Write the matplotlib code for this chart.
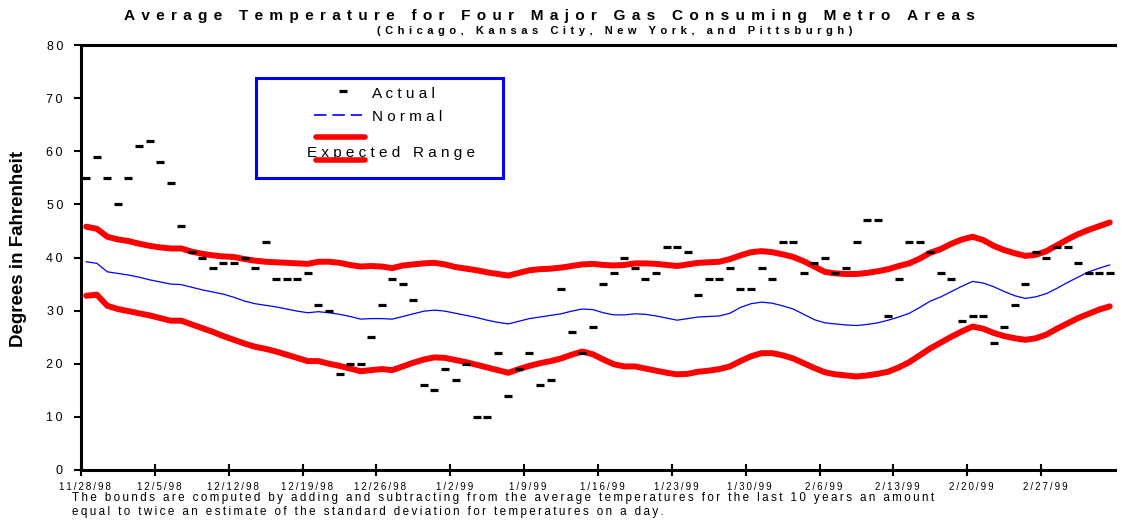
import datetime as dt
import matplotlib
matplotlib.use('Agg')
import matplotlib.pyplot as plt
from matplotlib.lines import Line2D
from matplotlib.patches import Rectangle
from matplotlib.transforms import ScaledTranslation

plt.rcParams['font.family'] = ['Liberation Sans', 'DejaVu Sans']

# daily values, 11/28/98 .. 3/5/99
actual = [55, 59, 55, 50, 55, 61, 62, 58, 54, 46, 41, 40, 38, 39, 39, 40,
          38, 43, 36, 36, 36, 37, 31, 30, 18, 20, 20, 25, 31, 36, 35, 32,
          16, 15, 19, 17, 20, 10, 10, 22, 14, 19, 22, 16, 17, 34, 26, 22,
          27, 35, 37, 40, 38, 36, 37, 42, 42, 41, 33, 36, 36, 38, 34, 34,
          38, 36, 43, 43, 37, 39, 40, 37, 38, 43, 47, 47, 29, 36, 43, 43,
          41, 37, 36, 28, 29, 29, 24, 27, 31, 35, 41, 40, 42, 42, 39, 37,
          37, 37]

upper = [45.8, 45.4, 43.9, 43.4, 43.1, 42.6, 42.2, 41.9, 41.7, 41.7, 41.1, 40.7,
         40.4, 40.2, 40.1, 39.7, 39.4, 39.2, 39.1, 39.0, 38.9, 38.8, 39.2, 39.2,
         39.0, 38.6, 38.3, 38.4, 38.3, 38.0, 38.5, 38.7, 38.9, 39.0, 38.7, 38.2,
         37.9, 37.6, 37.2, 36.9, 36.6, 37.1, 37.6, 37.8, 37.9, 38.1, 38.4, 38.7,
         38.8, 38.6, 38.5, 38.6, 38.9, 38.9, 38.8, 38.6, 38.4, 38.7, 39.0, 39.1,
         39.2, 39.7, 40.4, 41.0, 41.2, 41.0, 40.6, 40.1, 39.3, 38.3, 37.3, 37.0,
         36.9, 36.9, 37.1, 37.4, 37.8, 38.4, 38.9, 39.8, 40.9, 41.6, 42.6, 43.4,
         43.9, 43.3, 42.2, 41.4, 40.8, 40.3, 40.5, 41.2, 42.3, 43.4, 44.4, 45.2,
         45.9, 46.6]

normal = [39.2, 38.9, 37.3, 37.0, 36.7, 36.3, 35.8, 35.4, 35.0, 34.9, 34.4, 33.9,
          33.5, 33.1, 32.5, 31.8, 31.3, 31.0, 30.7, 30.3, 29.9, 29.6, 29.8, 29.6,
          29.3, 28.9, 28.4, 28.5, 28.5, 28.4, 28.9, 29.4, 29.9, 30.1, 29.9, 29.5,
          29.1, 28.7, 28.2, 27.8, 27.5, 28.0, 28.5, 28.8, 29.1, 29.4, 29.9, 30.3,
          30.2, 29.6, 29.2, 29.2, 29.4, 29.3, 29.0, 28.6, 28.2, 28.5, 28.8, 28.9,
          29.0, 29.5, 30.6, 31.3, 31.6, 31.4, 30.9, 30.3, 29.3, 28.3, 27.7, 27.5,
          27.3, 27.2, 27.4, 27.7, 28.2, 28.8, 29.5, 30.6, 31.8, 32.6, 33.6, 34.6,
          35.5, 35.2, 34.5, 33.6, 32.8, 32.3, 32.6, 33.2, 34.2, 35.3, 36.3, 37.3,
          38.0, 38.6]

lower = [32.8, 33.0, 30.9, 30.3, 29.9, 29.5, 29.1, 28.6, 28.1, 28.1, 27.4, 26.7,
         26.0, 25.2, 24.5, 23.8, 23.2, 22.8, 22.3, 21.7, 21.1, 20.5, 20.5, 20.0,
         19.6, 19.1, 18.6, 18.8, 19.0, 18.8, 19.5, 20.2, 20.8, 21.2, 21.1, 20.7,
         20.3, 19.8, 19.3, 18.8, 18.3, 19.0, 19.6, 20.1, 20.5, 21.0, 21.7, 22.3,
         21.8, 20.8, 19.9, 19.5, 19.5, 19.1, 18.7, 18.3, 18.0, 18.1, 18.5, 18.7,
         19.0, 19.5, 20.5, 21.4, 22.0, 22.0, 21.6, 21.0, 20.1, 19.2, 18.4, 18.0,
         17.8, 17.6, 17.8, 18.1, 18.5, 19.3, 20.3, 21.6, 22.9, 24.0, 25.1, 26.1,
         27.0, 26.6, 25.8, 25.2, 24.8, 24.5, 24.8, 25.5, 26.6, 27.6, 28.6, 29.4,
         30.2, 30.8]

start = dt.datetime(1998, 11, 28)
days = [start + dt.timedelta(days=i, hours=12) for i in range(len(actual))]
week_ticks = [start + dt.timedelta(days=7 * k) for k in range(14)]
tick_labels = [f'{d.month}/{d.day}/{d:%y}' for d in week_ticks]
y_ticks = list(range(0, 81, 10))

footnote = ['The bounds are computed by adding and subtracting from the average '
            'temperatures for the last 10 years an amount',
            'equal to twice an estimate of the standard deviation for '
            'temperatures on a day.']


def track(s, n=1, sep='\u2009'):
    # fake letter spacing
    return (sep * n).join(s)


W, H = 1122, 522
fig = plt.figure(figsize=(W / 100, H / 100), dpi=100)
ax = fig.add_axes([81 / W, 1 - 470 / H, (1115 - 81) / W, (470 - 45) / H])

for band in (upper, lower):
    ax.plot(days, band, color='red', lw=4.3, solid_capstyle='round',
            solid_joinstyle='round', zorder=2)
ax.plot(days, normal, color='blue', lw=0.9, zorder=3)
ax.plot(days, actual, ls='none', marker='_', ms=5.5, mew=2.3,
        color='black', zorder=4)

ax.set_xlim(start, start + dt.timedelta(days=98))
ax.set_ylim(0, 80)
ax.set_xticks(week_ticks)
ax.set_xticklabels([track(t) for t in tick_labels], fontsize=7)
ax.set_yticks(y_ticks)
ax.set_yticklabels([track(str(v)) for v in y_ticks], fontsize=9)
ax.tick_params(axis='x', direction='inout', length=8, width=1.5, pad=5)
ax.tick_params(axis='y', direction='out', length=5, width=1.5, pad=8)
for lbl in ax.get_xticklabels():
    lbl.set_transform(lbl.get_transform() +
                      ScaledTranslation(0.04, 0, fig.dpi_scale_trans))

ax.spines['right'].set_visible(False)
for s in ('left', 'bottom', 'top'):
    ax.spines[s].set_linewidth(2.2)

fig.text(19 / W, 1 - 249 / H, 'Degrees in Fahrenheit', rotation=90,
         fontsize=13.5, fontweight='bold', ha='center', va='center')
fig.text(549.5 / W, 1 - 16 / H,
         track('Average Temperature for Four Major Gas Consuming Metro Areas', 2),
         fontsize=11.1, fontweight='bold', ha='center', va='center')
fig.text(615 / W, 1 - 30.5 / H,
         track('(Chicago, Kansas City, New York, and Pittsburgh)', 2),
         fontsize=8, fontweight='bold', ha='center', va='center')
fig.text(72 / W, 1 - 497.5 / H, track(footnote[0]), fontsize=8.4, va='center')
fig.text(72 / W, 1 - 512.5 / H, track(footnote[1]), fontsize=8.4, va='center')

# hand made legend
tf = fig.transFigure
fig.add_artist(Rectangle((256 / W, 1 - 178 / H), (503 - 256) / W, 100 / H,
                         transform=tf, fill=False, ec='blue', lw=2.2))
fig.add_artist(Line2D([343 / W], [1 - 91 / H], marker='_', ms=5.5, mew=2.3,
                      color='black', transform=tf))
fig.text(372 / W, 1 - 94 / H, track('Actual', sep=' '), fontsize=11, va='center')
fig.add_artist(Line2D([314 / W, 362 / W], [1 - 115 / H] * 2, color='blue',
                      lw=1.2, dashes=(7.5, 3.5), transform=tf))
fig.text(372 / W, 1 - 117 / H, track('Normal', sep=' '), fontsize=11, va='center')
fig.add_artist(Line2D([316 / W, 365 / W], [1 - 136.7 / H] * 2, color='red',
                      lw=4, solid_capstyle='round', transform=tf))
fig.text(307 / W, 1 - 153.3 / H, track('Expected Range', sep=' '), fontsize=11,
         va='center')
fig.add_artist(Line2D([316 / W, 365 / W], [1 - 160 / H] * 2, color='red',
                      lw=4, solid_capstyle='round', transform=tf, zorder=5))

fig.savefig('out.png', dpi=100)
